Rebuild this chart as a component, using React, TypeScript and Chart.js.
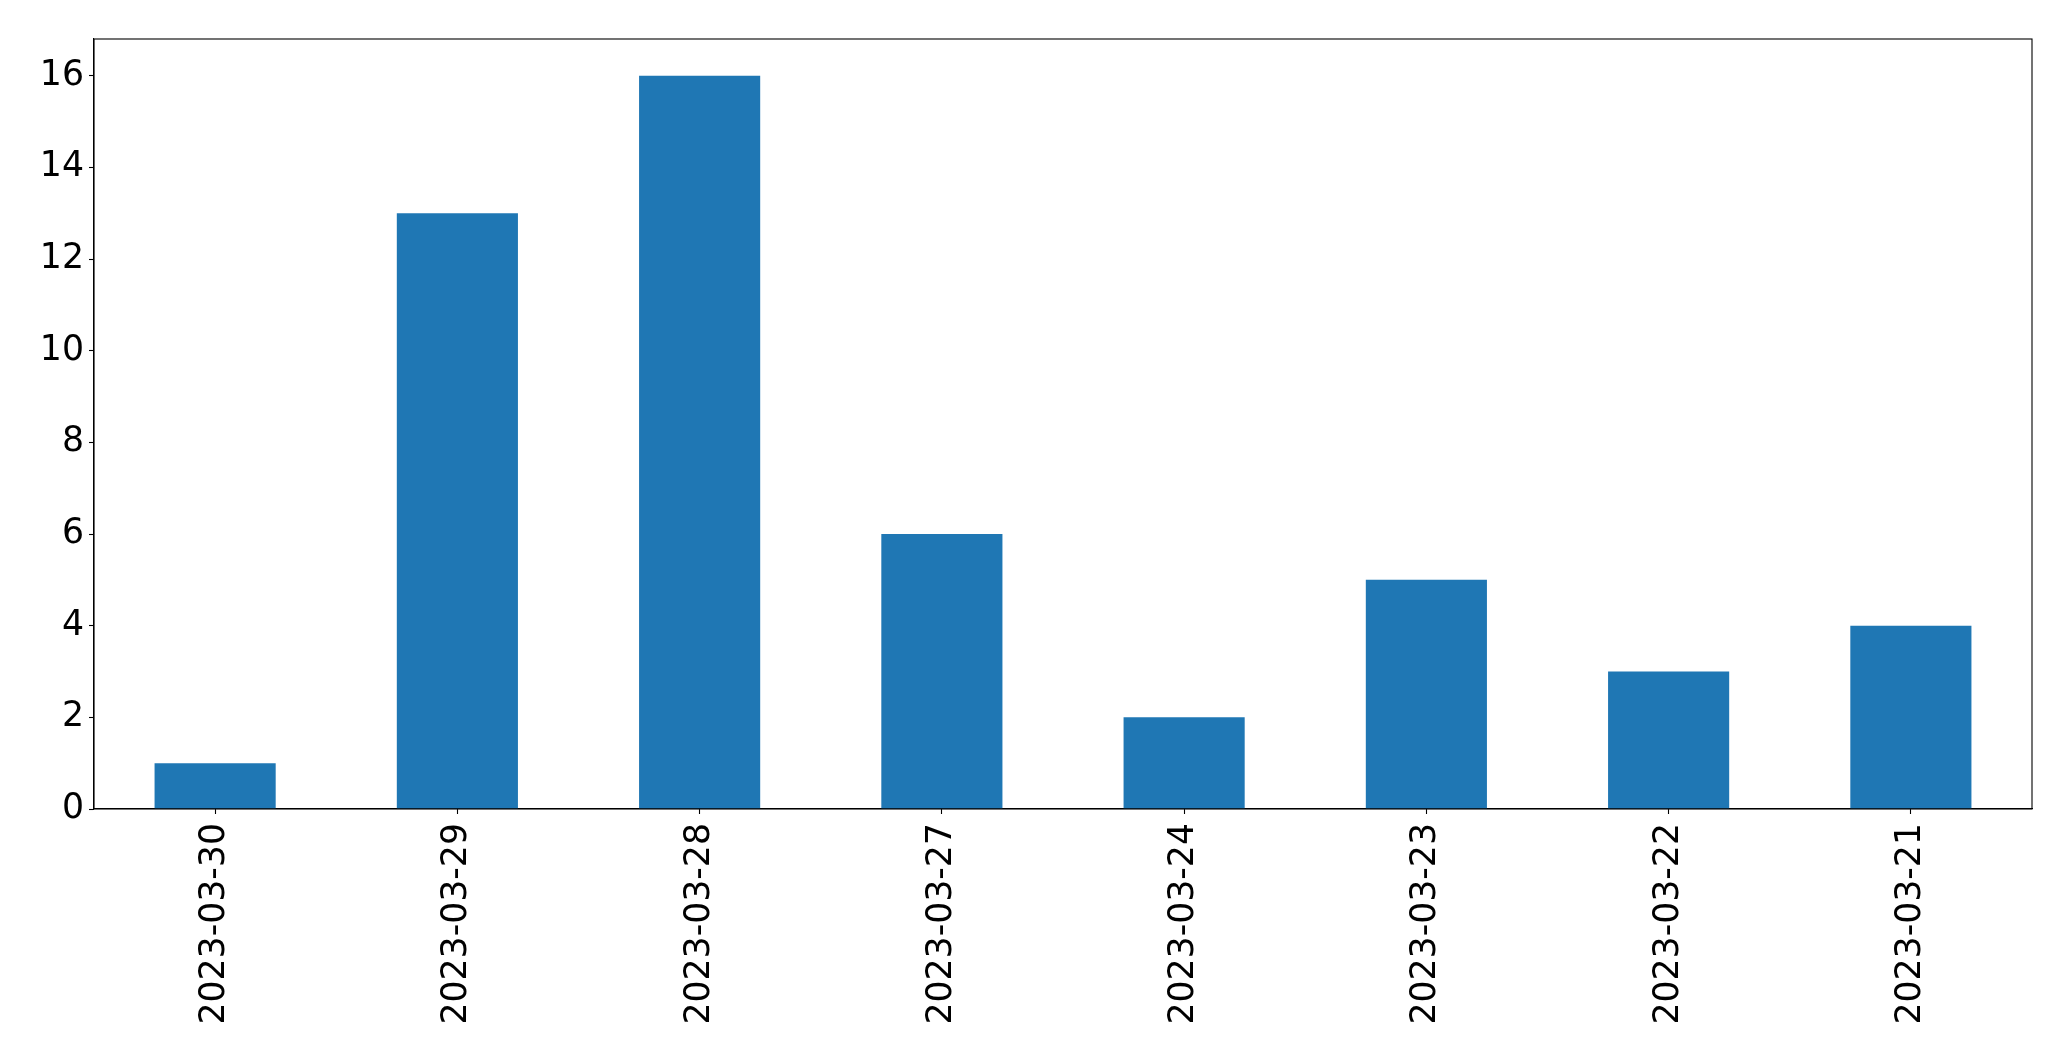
import React, { useEffect, useRef } from "react";
import { Chart, registerables } from "chart.js";

Chart.register(...registerables);

const CATEGORIES: string[] = [
  "2023-03-30",
  "2023-03-29",
  "2023-03-28",
  "2023-03-27",
  "2023-03-24",
  "2023-03-23",
  "2023-03-22",
  "2023-03-21",
];
const VALUES: number[] = [1, 13, 16, 6, 2, 5, 3, 4];
const Y_TICKS: number[] = [0, 2, 4, 6, 8, 10, 12, 14, 16];
const Y_MAX = 16.8;

const W = 2071;
const H = 1061;

const frame = {
  id: "frame",
  afterDraw(chart: any) {
    const { ctx, chartArea } = chart;
    ctx.save();
    ctx.strokeStyle = "#000";
    ctx.lineWidth = 1.1;
    ctx.strokeRect(chartArea.left, chartArea.top, chartArea.right - chartArea.left, chartArea.bottom - chartArea.top);
    ctx.restore();
  },
};

export default function App() {
  const ref = useRef<HTMLCanvasElement | null>(null);
  useEffect(() => {
    document.body.style.margin = "0";
    const font = { family: "'DejaVu Sans', sans-serif", size: 34.7 };
    const chart = new Chart(ref.current!, {
      type: "bar",
      data: {
        labels: CATEGORIES,
        datasets: [
          {
            data: VALUES,
            backgroundColor: "#1f77b4",
            borderWidth: 0,
            categoryPercentage: 1,
            barPercentage: 0.5,
          },
        ],
      },
      options: {
        animation: false,
        responsive: false,
        devicePixelRatio: 1,
        layout: { padding: { left: 0, right: 39, top: 39, bottom: 0 } },
        plugins: { legend: { display: false }, tooltip: { enabled: false } },
        scales: {
          x: {
            grid: {
              display: true,
              drawOnChartArea: false,
              drawTicks: true,
              tickLength: 5,
              tickWidth: 1.1,
              tickColor: "#000",
              offset: false,
            },
            border: { display: true, color: "#000", width: 1.1 },
            ticks: {
              font,
              color: "#000",
              minRotation: 90,
              maxRotation: 90,
              padding: 9,
              autoSkip: false,
            },
            afterFit(scale: any) {
              scale.height = 252;
            },
          },
          y: {
            min: 0,
            max: Y_MAX,
            grid: {
              display: true,
              drawOnChartArea: false,
              drawTicks: true,
              tickLength: 5,
              tickWidth: 1.1,
              tickColor: "#000",
            },
            border: { display: true, color: "#000", width: 1.1 },
            ticks: { font, color: "#000", padding: 5 },
            afterBuildTicks(scale: any) {
              scale.ticks = Y_TICKS.map((v) => ({ value: v }));
            },
            afterFit(scale: any) {
              scale.width = 94;
            },
          },
        },
      },
      plugins: [frame],
    });
    return () => chart.destroy();
  }, []);
  return (
    <div style={{ width: W, height: H, background: "#fff" }}>
      <canvas ref={ref} width={W} height={H} style={{ display: "block" }} />
    </div>
  );
}
